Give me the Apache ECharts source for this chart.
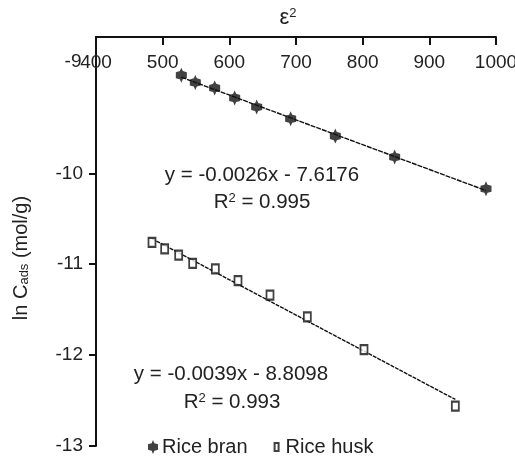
<!DOCTYPE html>
<html>
<head>
<meta charset="utf-8">
<script src="https://cdn.jsdelivr.net/npm/echarts@6/dist/echarts.min.js"></script>
<style>
  html, body { margin: 0; background: #fff; }
  #chart { width: 515px; height: 466px; }
</style>
</head>
<body>
<div id="chart"></div>
<script>
// values
const yTickValues = [-13, -12, -11, -10];
const riceBranX = [528, 549, 578, 608, 641, 692, 759, 848, 985];
const riceBranY = [-8.92, -9.0, -9.06, -9.17, -9.27, -9.4, -9.59, -9.82, -10.17];
const riceHuskX = [484, 503, 524, 545, 579, 613, 661, 717, 802, 939];
const riceHuskY = [-10.76, -10.83, -10.9, -10.99, -11.05, -11.18, -11.34, -11.58, -11.94, -12.56];
const branLabels = ['y = -0.0026x - 7.6176', 'R{sup|2} = 0.995'];
const huskLabels = ['y = -0.0039x - 8.8098', 'R{sup|2} = 0.993'];

const FONT = 'Liberation Sans';
const FS = 19;
const branSymbol = 'path://M5,0 L6.4,3.2 L10,4.2 L10,9.8 L6.4,10.8 L5,14 L3.6,10.8 L0,9.8 L0,4.2 L3.6,3.2 Z';
// hollow box inside a 10x14 frame, for the legend
const huskIcon = 'path://M0,0 M10,14 M2,2 L8,2 L8,12 L2,12 Z M4,4 L4,10 L6,10 L6,4 Z';

function pairs(xs, ys) {
  return xs.map((x, i) => [x, ys[i]]);
}

// least squares line across the range of the points
function trend(xs, ys) {
  const n = xs.length;
  const mx = xs.reduce((a, b) => a + b, 0) / n;
  const my = ys.reduce((a, b) => a + b, 0) / n;
  let sxy = 0, sxx = 0;
  xs.forEach((x, i) => { sxy += (x - mx) * (ys[i] - my); sxx += (x - mx) * (x - mx); });
  const k = sxy / sxx, b = my - k * mx;
  const x0 = Math.min(...xs), x1 = Math.max(...xs);
  return [[x0, k * x0 + b], [x1, k * x1 + b]];
}

const rich = {
  sup: { fontSize: 13, verticalAlign: 'top', padding: [0, 0, 7, 0], fontFamily: FONT, fill: '#222' },
  sub: { fontSize: 13, padding: [7, 0, 0, 0], fontFamily: FONT, fill: '#222' }
};

function textEl(str, x, y, size, rot) {
  return {
    type: 'text',
    x: x, y: y,
    rotation: rot || 0,
    style: {
      text: str, fontSize: size, fontFamily: FONT, fill: '#222',
      align: 'center', verticalAlign: 'middle', rich: rich
    }
  };
}

const chart = echarts.init(document.getElementById('chart'));

const option = {
  backgroundColor: '#fff',
  animation: false,
  textStyle: { fontFamily: FONT },
  grid: { left: 96, right: 19, top: 37, bottom: 20, containLabel: false, outerBoundsMode: 'none' },
  xAxis: {
    type: 'value',
    position: 'top',
    min: 400, max: 1000, interval: 100,
    splitLine: { show: false },
    axisLine: { lineStyle: { color: '#111', width: 2 } },
    axisTick: { inside: true, length: 8, lineStyle: { color: '#111', width: 2 } },
    axisLabel: {
      inside: true, margin: 16, fontSize: FS, color: '#222', fontFamily: FONT,
      formatter: v => String(v)
    }
  },
  yAxis: {
    type: 'value',
    min: -13, max: -8.5, interval: 1,
    splitLine: { show: false },
    axisLine: { show: true, lineStyle: { color: '#111', width: 2 } },
    axisTick: { show: true, length: 7, customValues: yTickValues, lineStyle: { color: '#111', width: 2 } },
    axisLabel: { margin: 13, fontSize: FS, color: '#222', fontFamily: FONT, customValues: yTickValues }
  },
  legend: {
    bottom: 4,
    left: 143,
    itemGap: 24,
    itemWidth: 10,
    itemHeight: 14,
    textStyle: { fontSize: 20, color: '#222', fontFamily: FONT, padding: [0, 0, 0, -1] },
    data: [
      { name: 'Rice bran', icon: branSymbol, itemStyle: { color: '#111', borderWidth: 0 } },
      { name: 'Rice husk', icon: huskIcon, itemStyle: { color: '#111', borderWidth: 0 } }
    ]
  },
  graphic: [
    textEl('ε{sup|2}', 288, 18, 22),
    textEl('-9', 73, 62, FS),
    textEl(branLabels[0], 262, 175, 20.5),
    textEl(branLabels[1], 262, 202, 20.5),
    textEl(huskLabels[0], 231, 374, 20.5),
    textEl(huskLabels[1], 232, 402, 20.5),
    textEl('ln C{sub|ads} (mol/g)', 21, 258, 20, Math.PI / 2)
  ],
  series: [
    {
      name: 'bran trend', type: 'line', data: trend(riceBranX, riceBranY),
      showSymbol: false, silent: true, z: 1,
      lineStyle: { color: '#111', width: 1.4, type: [5, 1] }
    },
    {
      name: 'husk trend', type: 'line', data: trend(riceHuskX, riceHuskY),
      showSymbol: false, silent: true, z: 1,
      lineStyle: { color: '#111', width: 1.4, type: [4, 1] }
    },
    {
      name: 'Rice bran', type: 'scatter', data: pairs(riceBranX, riceBranY),
      symbol: branSymbol, symbolSize: [11, 15], z: 3,
      itemStyle: { color: '#111' }
    },
    {
      name: 'Rice husk', type: 'scatter', data: pairs(riceHuskX, riceHuskY),
      symbol: 'rect', symbolSize: [7, 9], z: 3,
      itemStyle: { color: '#fff', borderColor: '#111', borderWidth: 2 }
    }
  ]
};

chart.setOption(option);
</script>
</body>
</html>
